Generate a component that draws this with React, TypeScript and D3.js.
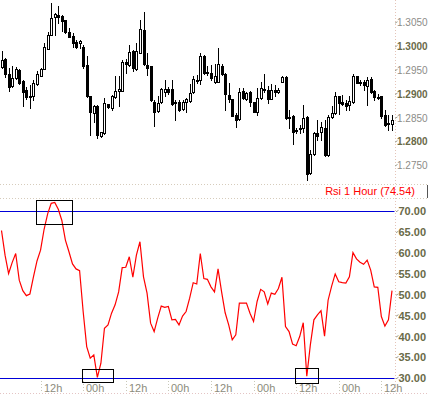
import React from "react";
import * as d3 from "d3";

// hourly candles
const opens = [
  1.2956, 1.2974, 1.2942, 1.2916, 1.2933, 1.2951, 1.2928, 1.2908, 1.2895, 1.2897,
  1.2921, 1.2939, 1.2953, 1.2995, 1.3025, 1.3061, 1.3066, 1.3065, 1.3055, 1.3031,
  1.3022, 1.3010, 1.3007, 1.2999, 1.2961, 1.2896, 1.2861, 1.2875, 1.2812, 1.2819,
  1.2879, 1.2870, 1.2893, 1.2907, 1.2907, 1.2968, 1.2961, 1.2991, 1.2953, 1.2987,
  1.3035, 1.2961, 1.2959, 1.2884, 1.2865, 1.2883, 1.2905, 1.2910, 1.2910, 1.2881,
  1.2884, 1.2869, 1.2884, 1.2886, 1.2904, 1.2928, 1.2930, 1.2980, 1.2947, 1.2944,
  1.2926, 1.2926, 1.2960, 1.2942, 1.2898, 1.2890, 1.2856, 1.2847, 1.2907, 1.2890,
  1.2904, 1.2884, 1.2862, 1.2891, 1.2910, 1.2909, 1.2890, 1.2909, 1.2904, 1.2926,
  1.2935, 1.2852, 1.2854, 1.2823, 1.2826, 1.2829, 1.2851, 1.2734, 1.2774, 1.2819,
  1.2820, 1.2828, 1.2772, 1.2851, 1.2860, 1.2895, 1.2883, 1.2881, 1.2877, 1.2883,
  1.2937, 1.2926, 1.2925, 1.2917, 1.2931, 1.2907, 1.2893, 1.2895, 1.2856, 1.2839, 1.2837,
];
const closes = [
  1.2972, 1.2942, 1.2914, 1.2934, 1.2953, 1.2924, 1.2905, 1.2893, 1.2894, 1.2923,
  1.2942, 1.2953, 1.2998, 1.3024, 1.3059, 1.3068, 1.3061, 1.3054, 1.3031, 1.3021,
  1.3008, 1.2999, 1.3012, 1.2958, 1.2895, 1.2863, 1.2874, 1.2814, 1.2820, 1.2881,
  1.2872, 1.2895, 1.2907, 1.2910, 1.2968, 1.2963, 1.2989, 1.2954, 1.2991, 1.3036,
  1.2963, 1.2955, 1.2888, 1.2863, 1.2881, 1.2910, 1.2910, 1.2905, 1.2879, 1.2884,
  1.2867, 1.2884, 1.2889, 1.2902, 1.2932, 1.2930, 1.2980, 1.2944, 1.2944, 1.2933,
  1.2937, 1.2963, 1.2942, 1.2900, 1.2890, 1.2854, 1.2846, 1.2905, 1.2891, 1.2903,
  1.2884, 1.2863, 1.2891, 1.2912, 1.2911, 1.2890, 1.2909, 1.2904, 1.2909, 1.2935,
  1.2849, 1.2851, 1.2821, 1.2825, 1.2829, 1.2849, 1.2732, 1.2774, 1.2818, 1.2811,
  1.2830, 1.2772, 1.2851, 1.2860, 1.2895, 1.2881, 1.2879, 1.2875, 1.2886, 1.2938,
  1.2924, 1.2924, 1.2919, 1.2930, 1.2905, 1.2893, 1.2891, 1.2853, 1.2835, 1.2837, 1.2846,
];
const highs = [
  1.2991, 1.2975, 1.2955, 1.2958, 1.2956, 1.2952, 1.2930, 1.2914, 1.2919, 1.2930,
  1.2949, 1.2954, 1.3007, 1.3030, 1.3091, 1.3070, 1.3086, 1.3067, 1.3056, 1.3038,
  1.3028, 1.3014, 1.3014, 1.3003, 1.2979, 1.2897, 1.2877, 1.2877, 1.2821, 1.2891,
  1.2879, 1.2898, 1.2938, 1.2938, 1.2972, 1.2973, 1.3003, 1.2993, 1.3007, 1.3056,
  1.3072, 1.2986, 1.2959, 1.2888, 1.2895, 1.2912, 1.2930, 1.2914, 1.2930, 1.2888,
  1.2888, 1.2888, 1.2891, 1.2921, 1.2937, 1.2940, 1.2986, 1.2982, 1.2958, 1.2961,
  1.2963, 1.2996, 1.2963, 1.2944, 1.2924, 1.2890, 1.2860, 1.2912, 1.2912, 1.2905,
  1.2907, 1.2884, 1.2912, 1.2926, 1.2942, 1.2917, 1.2921, 1.2919, 1.2913, 1.2937,
  1.2937, 1.2867, 1.2856, 1.2829, 1.2835, 1.2877, 1.2853, 1.2783, 1.2821, 1.2846,
  1.2842, 1.2846, 1.2856, 1.2874, 1.2905, 1.2896, 1.2898, 1.2888, 1.2895, 1.2942,
  1.2939, 1.2930, 1.2930, 1.2935, 1.2935, 1.2908, 1.2900, 1.2897, 1.2867, 1.2856, 1.2856,
];
const lows = [
  1.2954, 1.2935, 1.2907, 1.2914, 1.2932, 1.2921, 1.2875, 1.2889, 1.2870, 1.2888,
  1.2919, 1.2937, 1.2952, 1.2995, 1.3024, 1.3024, 1.3049, 1.3033, 1.3028, 1.3019,
  1.2999, 1.2996, 1.2997, 1.2954, 1.2894, 1.2814, 1.2842, 1.2807, 1.2810, 1.2816,
  1.2871, 1.2867, 1.2892, 1.2875, 1.2907, 1.2944, 1.2960, 1.2949, 1.2951, 1.2986,
  1.2961, 1.2940, 1.2886, 1.2832, 1.2863, 1.2881, 1.2895, 1.2901, 1.2877, 1.2846,
  1.2865, 1.2867, 1.2863, 1.2884, 1.2902, 1.2923, 1.2921, 1.2943, 1.2940, 1.2930,
  1.2924, 1.2925, 1.2940, 1.2867, 1.2884, 1.2853, 1.2830, 1.2846, 1.2889, 1.2888,
  1.2874, 1.2862, 1.2856, 1.2889, 1.2905, 1.2882, 1.2889, 1.2895, 1.2903, 1.2925,
  1.2848, 1.2828, 1.2795, 1.2818, 1.2818, 1.2820, 1.2720, 1.2733, 1.2772, 1.2804,
  1.2804, 1.2769, 1.2771, 1.2849, 1.2859, 1.2858, 1.2877, 1.2867, 1.2867, 1.2881,
  1.2923, 1.2919, 1.2909, 1.2877, 1.2903, 1.2888, 1.2889, 1.2849, 1.2834, 1.2825, 1.2825,
];

const rsi = [
  65.4, 59.5, 55.1, 57.7, 59.9, 53.5, 51.0, 49.8, 50.2, 54.3,
  58.1, 60.7, 65.7, 69.4, 71.9, 72.1, 70.5, 67.8, 63.1, 60.3,
  57.4, 56.2, 55.8, 46.0, 37.6, 34.8, 35.6, 30.2, 33.6, 42.0,
  42.8, 45.6, 47.6, 50.7, 56.5, 56.6, 59.1, 54.2, 59.5, 62.7,
  54.3, 50.4, 43.2, 41.2, 44.4, 47.3, 47.0, 47.2, 44.0, 44.1,
  42.8, 44.9, 46.0, 49.2, 52.9, 52.6, 59.9, 53.9, 53.7, 51.9,
  50.7, 56.2, 50.7, 45.7, 42.8, 39.2, 40.4, 48.0, 48.0, 48.0,
  45.6, 43.6, 48.4, 51.3, 50.7, 47.8, 50.4, 50.1, 51.5, 54.2,
  42.4, 41.2, 38.2, 37.8, 40.0, 43.3, 30.5, 38.0, 44.0, 45.2,
  46.2, 40.1, 48.7, 52.1, 55.0, 53.1, 52.9, 52.8, 54.3, 60.1,
  58.6, 57.8, 57.3, 58.3, 55.9, 51.9, 51.8, 44.8, 42.5, 44.0, 51.0,
];

const priceTicks = [1.305, 1.3, 1.295, 1.29, 1.285, 1.28, 1.275];
const rsiTicks = [70, 65, 60, 55, 50, 45, 40, 35, 30];
const rsiLevels = [70, 30];
const timeTickIndex = [11, 23, 35, 47, 59, 71, 83, 95, 107];
const timeLabels = ["12h", "00h", "12h", "00h", "12h", "00h", "12h", "00h", "12h"];

// boxes round the overbought / oversold touches (candle index, rsi)
const boxFrom = [9.6, 22.6, 82.8];
const boxTo = [19.8, 31.3, 89.4];
const boxHigh = [72.7, 32.2, 32.4];
const boxLow = [66.9, 29.0, 28.9];

const rsiTitle = "Rsi 1 Hour (74.54)";

const FONT = "'Liberation Sans', Arial, sans-serif";

export default function App() {
  const width = 428;
  const height = 396;
  const plotRight = 395.5;

  const x = d3.scaleLinear().domain([0, opens.length - 1]).range([1.5, 392]);
  const yP = d3.scaleLinear().domain([1.275, 1.305]).range([165.5, 22.7]);
  const yR = d3.scaleLinear().domain([30, 70]).range([378.3, 211.3]);

  const rsiLine = d3
    .line<number>()
    .x((_, i) => x(i))
    .y((d) => yR(d));

  return (
    <svg
      width={width}
      height={height}
      style={{ position: "absolute", left: 0, top: 0, background: "#fff" }}
      fontFamily={FONT}
    >
      {/* frame lines */}
      <line x1={0} x2={width} y1={184.5} y2={184.5} stroke="#d6ccbc" strokeDasharray="1,2" />
      <line x1={0} x2={width} y1={198.5} y2={198.5} stroke="#d6ccbc" strokeDasharray="1,2" />
      <line x1={0} x2={width} y1={393.5} y2={393.5} stroke="#e4c4c4" strokeDasharray="1,2" />
      <line x1={plotRight} x2={plotRight} y1={0} y2={393} stroke="#e4c4b8" strokeDasharray="1,2" />
      <line x1={427.5} x2={427.5} y1={185} y2={198} stroke="#555" />

      {/* candles */}
      {opens.map((o, i) => {
        const c = closes[i];
        const cx = Math.round(x(i));
        const top = Math.round(yP(Math.max(o, c)));
        const bot = Math.round(yP(Math.min(o, c)));
        const up = c >= o;
        return (
          <g key={i}>
            <line
              x1={cx + 0.5}
              x2={cx + 0.5}
              y1={Math.round(yP(highs[i]))}
              y2={Math.round(yP(lows[i])) + 1}
              stroke="#000"
            />
            <rect
              x={cx - 0.5}
              y={top + 0.5}
              width={2}
              height={Math.max(bot - top, 1)}
              fill={up ? "#fff" : "#000"}
              stroke="#000"
            />
          </g>
        );
      })}

      {/* price axis */}
      {priceTicks.map((p, i) => {
        const bold = Math.round(p * 10000) % 100 === 0;
        const y = yP(p);
        return (
          <g key={"p" + i}>
            <line x1={395} x2={397.5} y1={y + 0.5} y2={y - 1} stroke="#a0a090" />
            <text
              x={397}
              y={y}
              dy="0.36em"
              fontSize={10}
              fontWeight={bold ? "bold" : "normal"}
              fill={bold ? "#6a6a48" : "#8c8c88"}
            >
              {p.toFixed(4)}
            </text>
          </g>
        );
      })}

      {/* rsi panel */}
      <text x={415} y={195} textAnchor="end" fontSize={11} fill="#ff0000">
        {rsiTitle}
      </text>
      {rsiLevels.map((v) => (
        <line
          key={"l" + v}
          x1={0}
          x2={plotRight - 1}
          y1={Math.round(yR(v)) + 0.5}
          y2={Math.round(yR(v)) + 0.5}
          stroke="#0000d8"
        />
      ))}
      <path d={rsiLine(rsi) ?? ""} fill="none" stroke="#ff0000" strokeWidth={1.2} />
      {boxFrom.map((b, i) => (
        <rect
          key={"b" + i}
          x={Math.round(x(b)) + 0.5}
          y={Math.round(yR(boxHigh[i])) + 0.5}
          width={Math.round(x(boxTo[i]) - x(b))}
          height={Math.round(yR(boxLow[i]) - yR(boxHigh[i]))}
          fill="none"
          stroke="#000"
        />
      ))}
      {rsiTicks.map((v) => {
        const y = yR(v);
        return (
          <g key={"r" + v}>
            <line x1={396} x2={398.5} y1={y + 0.5} y2={y - 1} stroke="#a0a090" />
            <text x={398.5} y={y} dy="0.36em" fontSize={11} fontWeight="bold" fill="#6a6a48">
              {v.toFixed(2)}
            </text>
          </g>
        );
      })}

      {/* time axis */}
      {timeTickIndex.map((t, i) => {
        const tx = Math.round(x(t)) + 0.5;
        return (
          <g key={"t" + i}>
            <line x1={tx} x2={tx} y1={381} y2={393} stroke="#c8c8b8" strokeDasharray="1,2" />
            <text x={tx + 2.5} y={391.5} fontSize={11} fill="#8c8c7c">
              {timeLabels[i]}
            </text>
          </g>
        );
      })}
    </svg>
  );
}
